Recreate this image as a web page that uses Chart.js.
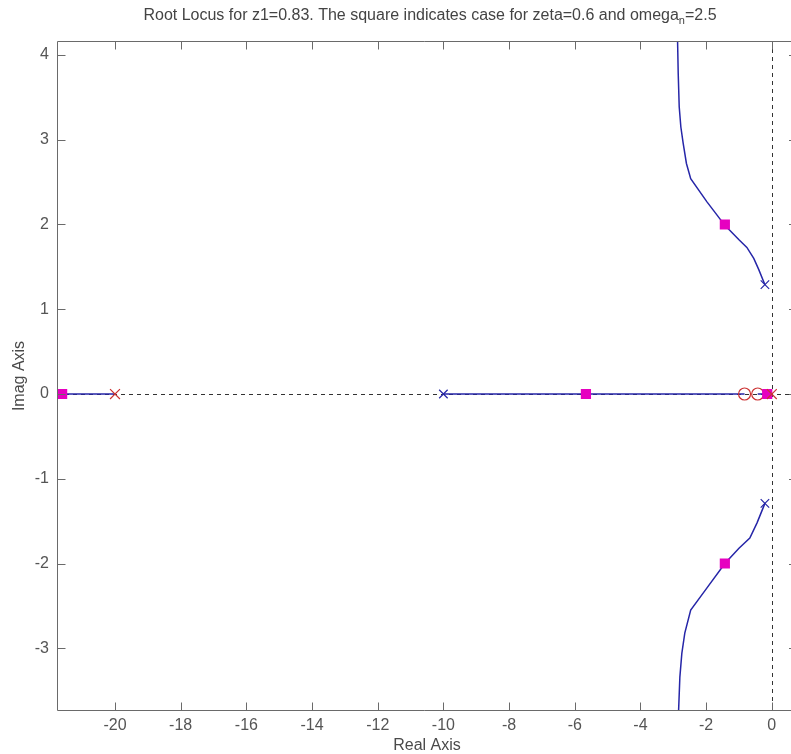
<!DOCTYPE html>
<html>
<head>
<meta charset="utf-8">
<script src="https://cdn.jsdelivr.net/npm/chart.js@4.4.1/dist/chart.umd.min.js"></script>
<style>
html,body{margin:0;padding:0;background:#fff;overflow:hidden;}
#c{display:block;}
</style>
</head>
<body>
<canvas id="c" width="799" height="754"></canvas>
<script>
// ---- data ----
const titleMain = "Root Locus for z1=0.83. The square indicates case for zeta=0.6 and omega";
const titleSub = "n";
const titleEnd = "=2.5";
const xLabel = "Real Axis";
const yLabel = "Imag Axis";
const xTicks = [-20, -18, -16, -14, -12, -10, -8, -6, -4, -2, 0];
const yTicks = [-3, -2, -1, 0, 1, 2, 3, 4];
const xRange = [-21.766, 0.578];
const yRange = [-3.74, 4.165];

// locus branches (real, imag)
const upperRe = [-0.21, -0.40, -0.55, -0.76, -1.00, -1.43, -1.98, -2.47, -2.60, -2.70, -2.77, -2.82, -2.85, -2.87];
const upperIm = [1.29, 1.47, 1.60, 1.73, 1.82, 1.99, 2.27, 2.54, 2.72, 2.96, 3.15, 3.39, 3.78, 4.17];
const lowerRe = [-0.21, -0.45, -0.67, -1.00, -1.43, -1.98, -2.47, -2.65, -2.74, -2.80, -2.84];
const lowerIm = [-1.29, -1.52, -1.70, -1.82, -2.00, -2.29, -2.55, -2.82, -3.06, -3.34, -3.75];
const realSeg1 = [-21.8, -20];
const realSeg2 = [-10, -0.83];
const realSeg3 = [-0.43, 0];

// poles / zeros / design points
const bluePolesRe = [-10, -0.21, -0.21];
const bluePolesIm = [0, 1.29, -1.29];
const redPolesRe = [-20, 0];
const redPolesIm = [0, 0];
const zerosRe = [-0.83, -0.43];
const zerosIm = [0, 0];
const squaresRe = [-21.61, -5.66, -1.43, -1.43, -0.14];
const squaresIm = [0, 0, 2.0, -2.0, 0];

const zip = (a, b) => a.map((v, i) => ({x: v, y: b[i]}));
const seg = s => [{x: s[0], y: 0}, {x: s[1], y: 0}];

const LOCUS = '#2626a8';
const RED = '#cc3333';
const MAG = '#e600c0';
const FONT = '"Liberation Sans", Arial, sans-serif';

const framePlugin = {
  id: 'frame',
  beforeDatasetsDraw(chart) {
    const {ctx, chartArea: a, scales} = chart;
    ctx.save();
    ctx.strokeStyle = '#333';
    ctx.lineWidth = 1;
    ctx.setLineDash([4, 4]);
    const x0 = Math.round(scales.x.getPixelForValue(0)) + 0.5;
    const y0 = Math.round(scales.y.getPixelForValue(0)) + 0.5;
    ctx.beginPath();
    ctx.moveTo(a.left, y0); ctx.lineTo(a.right, y0);
    ctx.moveTo(x0, a.top); ctx.lineTo(x0, a.bottom);
    ctx.stroke();
    ctx.restore();
  },
  afterDatasetsDraw(chart) {
    const {ctx, chartArea: a, scales} = chart;
    ctx.save();
    ctx.strokeStyle = '#6a6a6a';
    ctx.lineWidth = 1;
    const L = Math.round(a.left) + 0.5, R = Math.round(a.right);
    const T = Math.round(a.top) + 0.5, B = Math.round(a.bottom) - 0.5;
    ctx.beginPath();
    // left, top, bottom spines (right spine lies just beyond the picture edge)
    ctx.moveTo(R, T); ctx.lineTo(L, T); ctx.lineTo(L, B); ctx.lineTo(R, B);
    const tl = 8;
    scales.x.ticks.forEach(t => {
      const p = Math.round(scales.x.getPixelForValue(t.value)) + 0.5;
      ctx.moveTo(p, B); ctx.lineTo(p, B - tl);
      ctx.moveTo(p, T); ctx.lineTo(p, T + tl);
    });
    scales.y.ticks.forEach(t => {
      const p = Math.round(scales.y.getPixelForValue(t.value)) + 0.5;
      ctx.moveTo(L, p); ctx.lineTo(L + tl, p);
      ctx.moveTo(R, p); ctx.lineTo(R - 2, p);
    });
    ctx.stroke();

    // title with subscript
    ctx.fillStyle = '#444';
    const fMain = '16px ' + FONT, fSub = '11px ' + FONT;
    ctx.font = fMain;
    const w1 = ctx.measureText(titleMain).width;
    const w3 = ctx.measureText(titleEnd).width;
    ctx.font = fSub;
    const w2 = ctx.measureText(titleSub).width;
    const total = w1 + w2 + w3;
    const cx = 430;
    let x = cx - total / 2;
    const base = 20;
    ctx.textBaseline = 'alphabetic';
    ctx.textAlign = 'left';
    ctx.font = fMain; ctx.fillText(titleMain, x, base); x += w1;
    ctx.font = fSub; ctx.fillText(titleSub, x, base + 4); x += w2;
    ctx.font = fMain; ctx.fillText(titleEnd, x, base);

    // axis labels
    ctx.fillStyle = '#4a4a4a';
    ctx.font = '16px ' + FONT;
    ctx.textAlign = 'center';
    ctx.textBaseline = 'middle';
    ctx.fillText(xLabel, 427, 746);
    ctx.translate(20, (a.top + a.bottom) / 2);
    ctx.rotate(-Math.PI / 2);
    ctx.fillText(yLabel, 0, 0);
    ctx.restore();
  }
};

const lineDs = (data) => ({
  data, showLine: true, borderColor: LOCUS, borderWidth: 1.5,
  pointRadius: 0, fill: false, order: 5, tension: 0
});

new Chart(document.getElementById('c'), {
  type: 'scatter',
  data: {
    datasets: [
      lineDs(zip(upperRe, upperIm)),
      lineDs(zip(lowerRe, lowerIm)),
      lineDs(seg(realSeg1)),
      lineDs(seg(realSeg2)),
      lineDs(seg(realSeg3)),
      {data: zip(zerosRe, zerosIm), pointStyle: 'circle', pointRadius: 6, borderColor: RED,
       backgroundColor: 'rgba(0,0,0,0)', pointBorderWidth: 1.2, order: 3},
      {data: zip(squaresRe, squaresIm), pointStyle: 'rect', pointRadius: 7.2, borderColor: MAG,
       backgroundColor: MAG, pointBorderWidth: 0, order: 2},
      {data: zip(bluePolesRe, bluePolesIm), pointStyle: 'crossRot', pointRadius: 6, borderColor: LOCUS,
       pointBorderWidth: 1.2, order: 1},
      {data: zip(redPolesRe, redPolesIm), pointStyle: 'crossRot', pointRadius: 7, borderColor: RED,
       pointBorderWidth: 1.2, order: 1}
    ]
  },
  options: {
    responsive: false,
    animation: false,
    devicePixelRatio: 1,
    layout: {padding: {left: 0, top: 41, right: 0, bottom: 0}},
    plugins: {legend: {display: false}, tooltip: {enabled: false}, title: {display: false}},
    scales: {
      x: {
        type: 'linear', min: xRange[0], max: xRange[1],
        grid: {display: false, drawTicks: false, tickLength: 0}, border: {display: false},
        afterBuildTicks: s => { s.ticks = xTicks.map(v => ({value: v})); },
        afterFit: s => { s.height = 43; s.paddingLeft = 0; s.paddingRight = 0; },
        ticks: {color: '#555', font: {family: FONT, size: 16}, padding: 5, maxRotation: 0,
                callback: v => String(v)}
      },
      y: {
        type: 'linear', min: yRange[0], max: yRange[1],
        grid: {display: false, drawTicks: false, tickLength: 0}, border: {display: false},
        afterBuildTicks: s => { s.ticks = yTicks.map(v => ({value: v})); },
        afterFit: s => { s.width = 57; },
        ticks: {color: '#555', font: {family: FONT, size: 16}, padding: 8,
                callback: v => String(v)}
      }
    }
  },
  plugins: [framePlugin]
});
</script>
</body>
</html>
